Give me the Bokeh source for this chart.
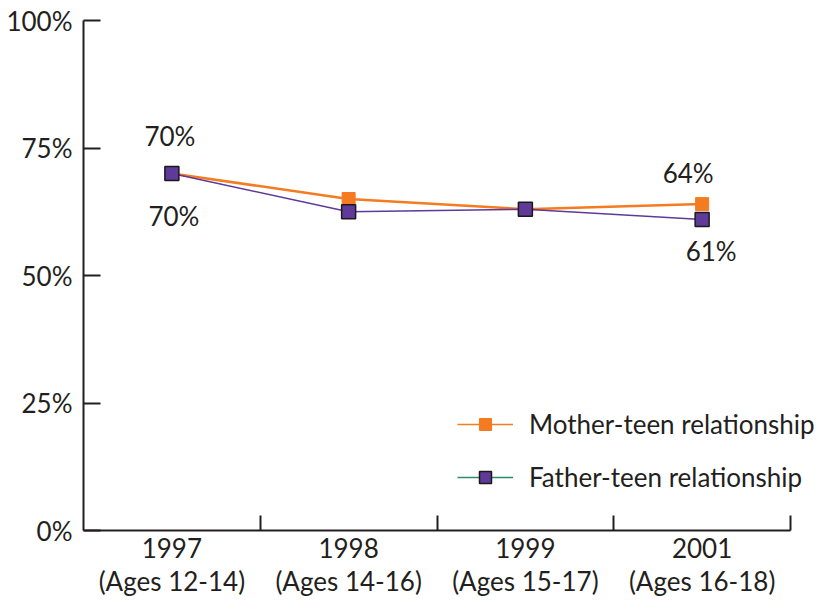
from bokeh.plotting import figure
from bokeh.models import FixedTicker, ColumnDataSource, Legend, LegendItem, LinearAxis
from bokeh.core.properties import value
from bokeh.embed import file_html
from bokeh.resources import INLINE

years = ["1997", "1998", "1999", "2001"]
ages = ["(Ages 12-14)", "(Ages 14-16)", "(Ages 15-17)", "(Ages 16-18)"]
mother = [70, 65, 63, 64]
father = [70, 62.5, 63, 61]
y_ticks = [0, 25, 50, 75, 100]

FONT = "Lato"
TXT = "#231f20"
ORANGE = "#F47B20"
PURPLE = "#5F3A99"
TEAL = "#2E8B6E"
FS = "26px"

W, H = 822, 600
LEFT, TOP, BOTTOM = 83, 20, 70
AXIS_W = 707  # pixel width of the 4 category bands
n = len(years)
xs = [i + 0.5 for i in range(n)]
x_end = n * (W - LEFT) / AXIS_W  # frame runs to the canvas edge so the legend is not clipped

p = figure(width=W, height=H, x_range=(0, x_end), y_range=(0, 100),
           output_backend="svg", toolbar_location=None,
           min_border_left=LEFT, min_border_right=0, min_border_top=TOP,
           min_border_bottom=BOTTOM)
p.outline_line_color = None
p.grid.visible = False
p.background_fill_color = "white"

# x axis: years, with boundary ticks as minor ticks
p.xaxis.bounds = (0, n)
p.xaxis.ticker = FixedTicker(ticks=xs, minor_ticks=[i + 1 for i in range(n)])
p.xaxis.major_label_overrides = {x: y for x, y in zip(xs, years)}
p.xaxis.major_tick_in = 0
p.xaxis.major_tick_out = 0
p.xaxis.minor_tick_in = 15
p.xaxis.minor_tick_out = 0
p.xaxis.minor_tick_line_width = 2
p.xaxis.minor_tick_line_color = TXT
p.xaxis.axis_line_width = 2
p.xaxis.axis_line_color = TXT
p.xaxis.major_label_text_font = FONT
p.xaxis.major_label_text_font_size = FS
p.xaxis.major_label_text_color = TXT
p.xaxis.major_label_standoff = 7

# second row of x labels: ages
ax2 = LinearAxis(ticker=FixedTicker(ticks=xs, minor_ticks=[]),
                 major_label_overrides={x: a for x, a in zip(xs, ages)},
                 axis_line_color=None, major_tick_line_color=None,
                 minor_tick_line_color=None, major_tick_in=0, major_tick_out=0,
                 major_label_standoff=4, major_label_text_font=FONT,
                 major_label_text_font_size=FS, major_label_text_color=TXT)
p.add_layout(ax2, "below")

p.yaxis.ticker = FixedTicker(ticks=y_ticks, minor_ticks=[])
p.yaxis.major_label_overrides = {t: f"{t}%" for t in y_ticks}
p.yaxis.major_tick_in = 17
p.yaxis.major_tick_out = 0
p.yaxis.major_tick_line_width = 2
p.yaxis.major_tick_line_color = TXT
p.yaxis.axis_line_width = 2
p.yaxis.axis_line_color = TXT
p.yaxis.major_label_text_font = FONT
p.yaxis.major_label_text_font_size = FS
p.yaxis.major_label_text_color = TXT
p.yaxis.major_label_standoff = 11

src = ColumnDataSource(dict(x=xs, mother=mother, father=father))

m_line = p.line("x", "mother", source=src, line_color=ORANGE, line_width=2.5)
f_line = p.line("x", "father", source=src, line_color=PURPLE, line_width=1.5)
m_pts = p.scatter("x", "mother", source=src, marker="square", size=13,
                  fill_color=ORANGE, line_color=ORANGE, line_width=1)
f_pts = p.scatter("x", "father", source=src, marker="square", size=14,
                  fill_color=PURPLE, line_color="#1a1a1a", line_width=1.5)

# legend-only lines (the reference legend shows a thin orange and a teal line)
f_leg_line = p.line([float("nan")], [float("nan")], line_color=TEAL, line_width=1.5)
m_leg_line = p.line([float("nan")], [float("nan")], line_color=ORANGE, line_width=1.5)

# data labels (first and last points)
top_dx = [-2, -14]
top_dy = [-38, -31]
bot_dx = [2, 9]
bot_dy = [42, 32]
lab_top = ColumnDataSource(dict(x=[xs[0], xs[-1]], y=[mother[0], mother[-1]],
                                t=[f"{mother[0]}%", f"{mother[-1]}%"], dx=top_dx, dy=top_dy))
lab_bot = ColumnDataSource(dict(x=[xs[0], xs[-1]], y=[father[0], father[-1]],
                                t=[f"{father[0]}%", f"{father[-1]}%"], dx=bot_dx, dy=bot_dy))
for s in (lab_top, lab_bot):
    p.text("x", "y", text="t", source=s, x_offset="dx", y_offset="dy",
           text_align="center", text_baseline="middle", text_font=value(FONT),
           text_font_size=FS, text_color=TXT)

legend = Legend(items=[
    LegendItem(label="Mother-teen relationship", renderers=[m_leg_line, m_pts]),
    LegendItem(label="Father-teen relationship", renderers=[f_leg_line, f_pts]),
], location=(374, 37))
legend.glyph_width = 56
legend.glyph_height = 30
legend.label_height = 30
legend.spacing = 21
legend.padding = 0
legend.margin = 0
legend.label_standoff = 16
legend.label_text_font = FONT
legend.label_text_font_size = "26px"
legend.label_text_color = TXT
legend.border_line_color = None
legend.background_fill_alpha = 0
p.add_layout(legend, "center")

open("out.html", "w").write(file_html(p, INLINE))
